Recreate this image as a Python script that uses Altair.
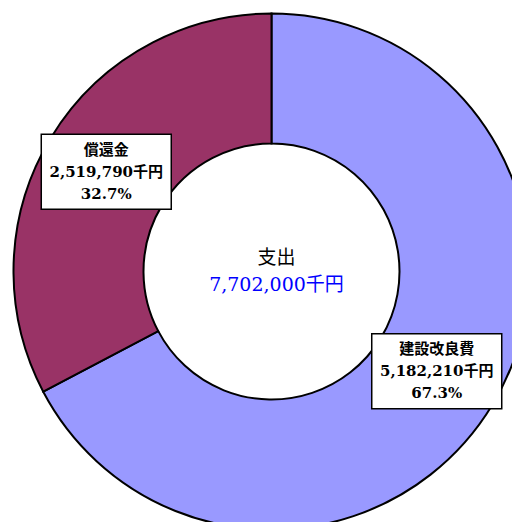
import math
import altair as alt
import pandas as pd

categories = ["建設改良費", "償還金"]
values = [5182210, 2519790]
percents = ["67.3%", "32.7%"]
colors = ["#9999FF", "#993366"]
center_title = "支出"
center_total = "7,702,000千円"

W, H = 504, 514
CX, CY = 263.5, 263.5
R_IN, R_OUT = 128, 258
R_MID = (R_IN + R_OUT) / 2

total = sum(values)
rows = []
cum = 0.0
for i, (c, v, p) in enumerate(zip(categories, values, percents)):
    frac = v / total
    a = 2 * math.pi * (cum + frac / 2)
    cum += frac
    rows.append({
        "cat": c, "val": v, "order": i,
        "l1": c, "l2": f"{v:,}千円", "l3": p,
        "cx": R_MID * math.sin(a), "cy": R_MID * math.cos(a),
    })
df = pd.DataFrame(rows)

xs = alt.Scale(domain=[-CX, W - CX], nice=False, zero=False)
ys = alt.Scale(domain=[-(H - CY), CY], nice=False, zero=False)
X = alt.X("cx:Q", scale=xs, axis=None)
Y = alt.Y("cy:Q", scale=ys, axis=None)
FONT = "DejaVu Serif, Noto Sans CJK JP"

arcs = alt.Chart(df).mark_arc(
    innerRadius=R_IN, outerRadius=R_OUT, stroke="black", strokeWidth=2
).encode(
    theta=alt.Theta("val:Q", stack=True),
    order=alt.Order("order:Q"),
    color=alt.Color("cat:N", scale=alt.Scale(domain=categories, range=colors), legend=None),
    x=alt.value(CX),
    y=alt.value(CY),
)

boxes = alt.Chart(df).mark_point(
    shape="M-1,-0.577L1,-0.577L1,0.577L-1,0.577Z",
    size=16900, filled=True, fill="white", stroke="black", strokeWidth=1.5, opacity=1,
).encode(x=X, y=Y)

def line(field, dy):
    return alt.Chart(df).mark_text(
        font=FONT, fontSize=15, fontWeight="bold", color="black",
        baseline="middle", align="center", dy=dy,
    ).encode(x=X, y=Y, text=f"{field}:N")

cdf = pd.DataFrame({"cx": [0], "cy": [0], "t": [center_title], "u": [center_total]})
ctitle = alt.Chart(cdf).mark_text(
    font=FONT, fontSize=19, color="black", baseline="middle", dy=-14, dx=5,
).encode(x=X, y=Y, text="t:N")
ctotal = alt.Chart(cdf).mark_text(
    font=FONT, fontSize=19, color="#0000FF", baseline="middle", dy=13, dx=5,
).encode(x=X, y=Y, text="u:N")

chart = alt.layer(
    arcs, boxes, line("l1", -22), line("l2", 0), line("l3", 22), ctitle, ctotal
).properties(
    width=W, height=H, autosize=alt.AutoSizeParams(type="none"), padding=0,
).configure_view(stroke=None)

chart.save("out.html", embed_options={"renderer": "svg", "actions": False})
